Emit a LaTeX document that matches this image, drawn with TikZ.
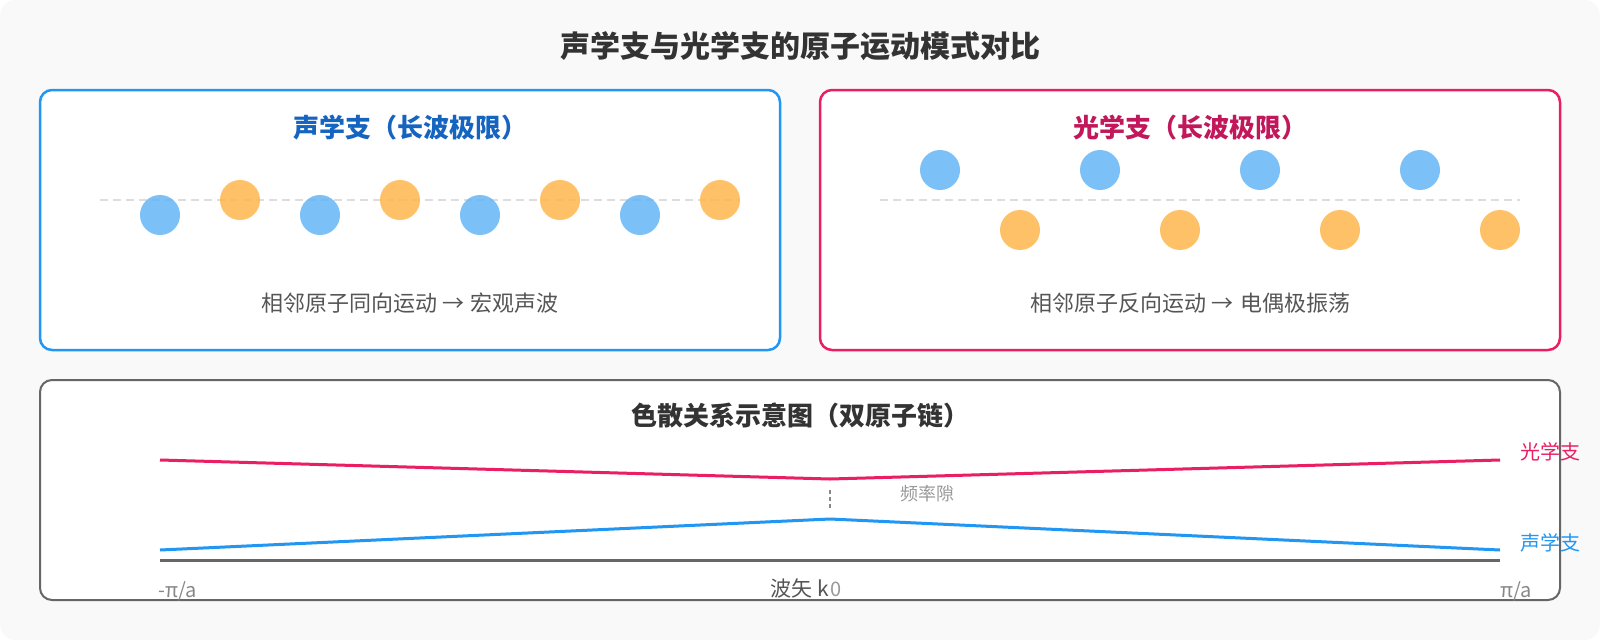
\documentclass[tikz,border=0pt]{standalone}
\usepackage{fontspec}
\setmainfont{Noto Sans CJK SC}
\definecolor{bgc}{HTML}{F9F9F9}
\definecolor{acblue}{HTML}{2196F3}
\definecolor{acdark}{HTML}{1565C0}
\definecolor{oppink}{HTML}{E91E63}
\definecolor{opdark}{HTML}{C2185B}
\definecolor{atomblue}{HTML}{64B5F6}
\definecolor{atomorange}{HTML}{FFB74D}
\definecolor{tdark}{HTML}{333333}
\definecolor{tmid}{HTML}{555555}
\definecolor{tgray}{HTML}{888888}
\definecolor{tlight}{HTML}{999999}
\definecolor{axisc}{HTML}{666666}
\definecolor{dashc}{HTML}{DDDDDD}
\begin{document}
\begin{tikzpicture}[x=1pt,y=-1pt,
  txt/.style={inner sep=0pt, anchor=base},
  fs/.style={font=\fontsize{#1}{#1}\selectfont},
  panel/.style={line width=2.5pt, fill=white, rounded corners=12pt},
  atomb/.style={circle, minimum size=40pt, inner sep=0pt, fill=atomblue, fill opacity=0.85},
  atomo/.style={circle, minimum size=40pt, inner sep=0pt, fill=atomorange, fill opacity=0.85},
  eqline/.style={dashc, line width=2pt, dash pattern=on 8pt off 5pt},
  branch/.style={line width=3pt, line join=miter}]
\useasboundingbox (0,0) rectangle (1600,640);
\fill[bgc, rounded corners=16pt] (0,0) rectangle (1600,640);

% main title
\node[txt, fs=30, text=tdark] (title) at (800,57) {\bfseries 声学支与光学支的原子运动模式对比};

% acoustic panel
\draw[panel, draw=acblue] (40,90) rectangle (780,350);
\node[txt, fs=26, text=acdark] (actitle) at (410,137) {\bfseries 声学支（长波极限）};
\coordinate (acL) at (100,200);
\coordinate (acR) at (740,200);
\draw[eqline] (acL) -- (acR);
\foreach \i/\x in {1/160,2/320,3/480,4/640}{
  \node[atomb] (ab\i) at (\x,215) {};
}
\foreach \i/\x in {1/240,2/400,3/560,4/720}{
  \node[atomo] (ao\i) at (\x,200) {};
}
\node[txt, fs=22, text=tmid] (accap) at (410,311) {相邻原子同向运动\hspace{6pt}→\hspace{6pt}宏观声波};

% optical panel
\draw[panel, draw=oppink] (820,90) rectangle (1560,350);
\node[txt, fs=26, text=opdark] (optitle) at (1190,137) {\bfseries 光学支（长波极限）};
\coordinate (opL) at (880,200);
\coordinate (opR) at (1520,200);
\draw[eqline] (opL) -- (opR);
\foreach \i/\x in {1/940,2/1100,3/1260,4/1420}{
  \node[atomb] (ob\i) at (\x,170) {};
}
\foreach \i/\x in {1/1020,2/1180,3/1340,4/1500}{
  \node[atomo] (oo\i) at (\x,230) {};
}
\node[txt, fs=22, text=tmid] (opcap) at (1190,311) {相邻原子反向运动\hspace{6pt}→\hspace{6pt}电偶极振荡};

% dispersion panel
\draw[line width=2pt, draw=axisc, fill=white, rounded corners=12pt] (40,380) rectangle (1560,600);
\node[txt, fs=26, text=tdark] (disptitle) at (800,425) {\bfseries 色散关系示意图（双原子链）};

\coordinate (axL) at (160,560);
\coordinate (axR) at (1500,560);
\draw[axisc, line width=3pt] (axL) -- (axR);

\coordinate (oL) at (160,460);
\coordinate (oM) at (830,479);
\coordinate (oR) at (1500,460);
\draw[branch, oppink] (oL) -- (oM) -- (oR);

\coordinate (aL) at (160,550);
\coordinate (aM) at (830,519);
\coordinate (aR) at (1500,550);
\draw[branch, acblue] (aL) -- (aM) -- (aR);

\coordinate (gapT) at (830,490);
\coordinate (gapB) at (830,509);
\draw[tgray, line width=2pt, dash pattern=on 4pt off 3pt] (gapT) -- (gapB);
\node[txt, anchor=base west, fs=18, text=tlight] (gaplbl) at (900,500) {频率隙};

\node[txt, anchor=base west, fs=20, text=oppink] (oplbl) at (1520,459) {光学支};
\node[txt, anchor=base west, fs=20, text=acblue] (aclbl) at (1520,550) {声学支};

\node[txt, anchor=base west, fs=20, text=tgray] (kmin) at (158,597) {-π/a};
\node[txt, anchor=base west, fs=20, text=tgray] (kmax) at (1500,597) {π/a};
\node[txt, fs=21, text=tmid] (kaxis) at (800,596) {波矢 k};
\node[txt, anchor=base west, fs=20, text=tlight] (kzero) at (830,596) {0};
\end{tikzpicture}
\end{document}
